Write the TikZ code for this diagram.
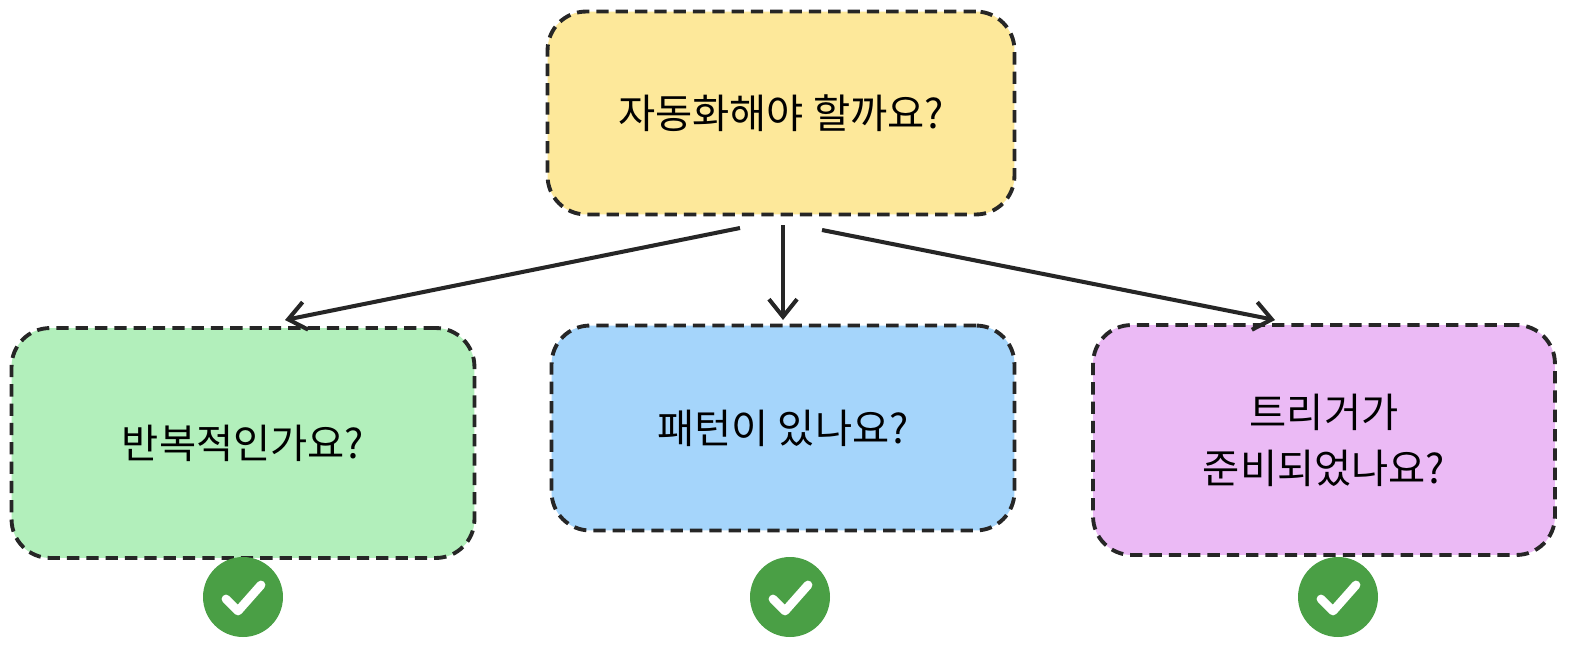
\documentclass[tikz,border=0pt]{standalone}
\usepackage{fontspec}
\setmainfont{Noto Sans CJK KR}
\usetikzlibrary{arrows.meta}
\definecolor{cy}{HTML}{FDE89A}
\definecolor{cg}{HTML}{B2EFBB}
\definecolor{cb}{HTML}{A5D5FB}
\definecolor{cp}{HTML}{EBBAF5}
\definecolor{ck}{HTML}{4A9F45}
\begin{document}
\begin{tikzpicture}[x=0.02cm,y=-0.02cm,
 box/.style={draw=black!85,line width=2.2pt,dash pattern=on 7pt off 4pt,rounded corners=22pt,align=center,font=\fontsize{23}{32}\selectfont,inner sep=0pt},
 arr/.style={-{Straight Barb[length=10pt,width=16pt]},line width=2.3pt,black!85},
 chk/.style={circle,fill=ck,minimum size=1.6cm,inner sep=0pt}]
\useasboundingbox (0,0) rectangle (1586,656);
\node[box,fill=cy,minimum width=9.34cm,minimum height=4.06cm] (top) at (781,113) {자동화해야 할까요?};
\node[box,fill=cg,minimum width=9.26cm,minimum height=4.6cm] (l) at (243,443) {반복적인가요?};
\node[box,fill=cb,minimum width=9.26cm,minimum height=4.1cm] (m) at (783,428) {패턴이 있나요?};
\node[box,fill=cp,minimum width=9.24cm,minimum height=4.6cm] (r) at (1324,440) {트리거가\\준비되었나요?};
\coordinate (a1) at (740,228); \coordinate (a2) at (783,225); \coordinate (a3) at (822,230);
\coordinate (b1) at (285,320); \coordinate (b2) at (783,320); \coordinate (b3) at (1275,320);
\draw[arr] (a1) -- (b1);
\draw[arr] (a2) -- (b2);
\draw[arr] (a3) -- (b3);
\foreach \n/\x in {c1/243,c2/790,c3/1338}{
 \node[chk] (\n) at (\x,597) {};
 \draw[white,line width=5pt,line cap=round,line join=round] ([shift={(-17,2)}]\n.center) -- ([shift={(-5,14)}]\n.center) -- ([shift={(18,-12)}]\n.center);
}
\end{tikzpicture}
\end{document}
